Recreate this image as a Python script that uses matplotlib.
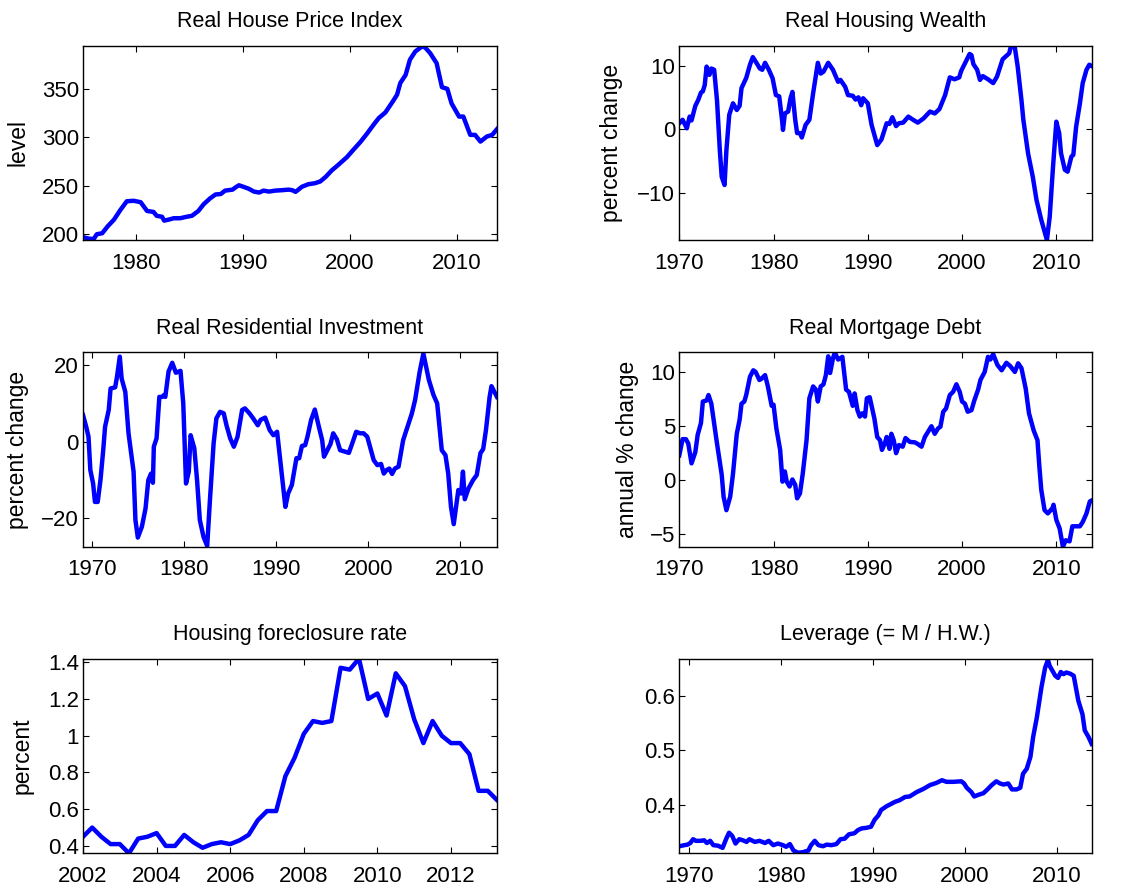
import matplotlib
matplotlib.use('Agg')
import matplotlib.pyplot as plt


# Real house price index (level)
hpi_year = [1975.0, 1975.5, 1976.0, 1976.3, 1976.8, 1977.3, 1977.9, 1978.5, 1979.1, 1979.75,
            1980.4, 1981.0, 1981.6, 1981.9, 1982.4, 1982.6, 1983.0, 1983.5, 1984.1, 1984.7,
            1985.2, 1985.8, 1986.3, 1986.9, 1987.4, 1987.9, 1988.3, 1989.0, 1989.3, 1989.6,
            1990.0, 1990.5, 1991.0, 1991.5, 1991.9, 1992.4, 1993.0, 1993.6, 1994.25, 1994.6,
            1994.9, 1995.5, 1996.1, 1996.7, 1997.2, 1997.7, 1998.3, 1998.9, 1999.7, 2000.3,
            2001.0, 2001.6, 2002.2, 2002.7, 2003.3, 2004.0, 2004.4, 2004.7, 2005.2, 2005.6,
            2006.1, 2006.7, 2007.0, 2007.5, 2007.8, 2008.1, 2008.6, 2009.1, 2009.5, 2010.2,
            2010.6, 2011.25, 2011.7, 2012.2, 2012.8, 2013.3, 2013.75]
hpi_level = [197, 195.5, 195, 200, 201, 208, 215, 225, 234, 234.5,
             233, 224, 223, 219, 218, 214, 215, 216.5, 216.5, 218,
             219, 224, 231, 237, 241, 241.5, 245, 246, 248.5, 250.5,
             249, 247, 244, 243, 245, 244, 245, 245.4, 246, 245.4,
             243.7, 249, 251.6, 252.6, 254.4, 259, 266, 271.6, 279.5, 287,
             295.6, 304, 313, 320, 325.6, 337, 344, 356, 364.4, 380,
             388.5, 393.5, 393, 386.8, 381.6, 376.5, 351.7, 350, 335, 321.4,
             321.4, 302.5, 302.5, 295.6, 300.8, 302.5, 308.4]

# Real housing wealth (percent change)
hw_year = [1970.0, 1970.35, 1970.8, 1971.1, 1971.3, 1971.7, 1972.0, 1972.3, 1972.5, 1972.7,
           1972.9, 1973.2, 1973.4, 1973.7, 1974.0, 1974.3, 1974.5, 1974.8, 1975.0, 1975.3,
           1975.7, 1976.1, 1976.4, 1976.6, 1977.1, 1977.5, 1977.8, 1978.1, 1978.55, 1978.8,
           1979.1, 1979.5, 1979.9, 1980.25, 1980.6, 1980.9, 1981.0, 1981.2, 1981.55, 1981.8,
           1982.0, 1982.3, 1982.5, 1982.8, 1983.0, 1983.4, 1983.8, 1984.2, 1984.7, 1985.0,
           1985.3, 1985.8, 1986.3, 1986.85, 1987.1, 1987.6, 1987.9, 1988.4, 1988.7, 1989.0,
           1989.3, 1989.5, 1990.0, 1990.4, 1991.0, 1991.45, 1992.0, 1992.3, 1992.6, 1993.0,
           1993.3, 1993.75, 1994.3, 1994.8, 1995.3, 1995.9, 1996.6, 1997.1, 1997.6, 1998.2,
           1998.7, 1999.2, 1999.7, 1999.9, 2000.4, 2000.8, 2001.0, 2001.2, 2001.6, 2001.9,
           2002.2, 2002.75, 2003.3, 2003.7, 2004.3, 2004.7, 2005.0, 2005.2, 2005.6, 2005.9,
           2006.3, 2006.5, 2007.0, 2007.5, 2007.9, 2008.4, 2009.0, 2009.3, 2009.65, 2010.0,
           2010.3, 2010.5, 2010.9, 2011.2, 2011.6, 2011.8, 2012.1, 2012.5, 2012.8, 2013.2,
           2013.5, 2013.75]
hw_change = [0.95, 1.5, 0.15, 2.0, 1.4, 3.7, 4.6, 5.8, 6.0, 7.0,
             9.9, 8.6, 9.6, 9.4, 4.6, -3.3, -7.5, -8.8, -3.3, 2.3,
             4.1, 3.05, 3.7, 6.5, 8.1, 10.2, 11.4, 10.7, 9.6, 9.4,
             10.5, 9.4, 8.05, 5.4, 5.2, 1.5, -0.1, 2.5, 2.8, 4.9,
             5.9, 1.5, -0.6, -0.6, -1.3, 0.7, 1.5, 5.7, 10.5, 8.8,
             9.1, 10.5, 9.4, 7.5, 7.8, 6.7, 5.4, 5.3, 4.7, 5.05,
             3.8, 4.9, 4.1, 0.7, -2.5, -1.6, 0.95, 0.85, 1.9, 0.5,
             0.95, 1.05, 2.0, 1.5, 1.05, 1.7, 2.8, 2.5, 3.2, 5.4,
             8.2, 7.9, 8.2, 9.2, 10.7, 11.9, 11.7, 10.3, 9.4, 7.8,
             8.4, 7.9, 7.3, 8.3, 11.05, 11.6, 12.0, 13.2, 12.9, 9.9,
             4.6, 1.5, -3.8, -7.5, -11.2, -14.3, -17.5, -13.8, -5.9, 1.2,
             -0.6, -3.8, -6.4, -6.7, -4.3, -4.05, 0.4, 4.1, 7.3, 9.4,
             10.2, 10.0]

# Real residential investment (percent change)
ri_year = [1969.0, 1969.35, 1969.6, 1969.8, 1970.1, 1970.3, 1970.6, 1970.9, 1971.2, 1971.4,
           1971.8, 1972.0, 1972.5, 1972.7, 1973.0, 1973.2, 1973.6, 1973.95, 1974.5, 1974.7,
           1974.96, 1975.4, 1975.8, 1976.1, 1976.4, 1976.6, 1976.7, 1977.0, 1977.3, 1977.6,
           1977.8, 1977.95, 1978.3, 1978.7, 1979.1, 1979.6, 1979.9, 1980.2, 1980.5, 1980.7,
           1981.1, 1981.4, 1981.7, 1982.1, 1982.5, 1982.8, 1983.2, 1983.5, 1983.9, 1984.3,
           1984.6, 1985.0, 1985.4, 1985.8, 1986.3, 1986.6, 1987.1, 1987.5, 1988.0, 1988.3,
           1988.8, 1989.3, 1989.7, 1990.1, 1990.4, 1991.0, 1991.3, 1991.7, 1992.2, 1992.5,
           1992.8, 1993.15, 1993.4, 1993.8, 1994.2, 1994.6, 1995.0, 1995.2, 1995.6, 1995.9,
           1996.2, 1996.6, 1996.95, 1997.5, 1997.9, 1998.2, 1998.7, 1999.1, 1999.5, 1999.9,
           2000.2, 2000.6, 2001.0, 2001.4, 2001.7, 2002.0, 2002.3, 2002.6, 2002.9, 2003.3,
           2003.8, 2004.3, 2004.75, 2005.1, 2005.6, 2006.0, 2006.6, 2007.1, 2007.5, 2008.0,
           2008.4, 2008.7, 2009.0, 2009.3, 2009.7, 2009.8, 2010.1, 2010.3, 2010.5, 2010.9,
           2011.4, 2011.8, 2012.2, 2012.5, 2012.8, 2013.2, 2013.4, 2014.0]
ri_change = [7.0, 3.9, 1.3, -7.4, -10.9, -15.7, -15.7, -10.0, -2.2, 3.9,
             8.3, 13.9, 14.2, 17.0, 22.2, 16.5, 13.0, 2.2, -7.8, -20.4,
             -25.0, -22.2, -17.4, -10.0, -8.3, -10.7, -1.3, 0.9, 11.7, 11.7,
             12.2, 11.7, 18.3, 20.6, 18.0, 18.5, 10.0, -10.9, -7.8, 1.7,
             -1.7, -10.0, -20.4, -24.8, -27.2, -15.2, -0.4, 6.1, 7.8, 7.4,
             4.3, 0.9, -1.3, 1.3, 8.3, 8.7, 7.4, 6.1, 4.3, 5.7,
             6.3, 3.0, 1.7, 2.6, -3.9, -17.0, -13.5, -11.3, -4.3, -4.3,
             -1.1, -0.9, 1.3, 5.7, 8.4, 4.3, 0.4, -3.9, -2.0, -0.6,
             2.2, 0.6, -2.2, -2.6, -2.9, -0.9, 2.6, 2.2, 2.2, 1.3,
             -1.3, -4.8, -6.1, -5.8, -8.3, -7.4, -7.0, -8.4, -7.0, -6.5,
             0.4, 4.1, 7.4, 10.9, 18.3, 23.0, 16.1, 12.2, 10.0, -2.2,
             -3.5, -8.3, -17.0, -21.5, -14.3, -12.6, -13.5, -7.8, -15.0, -12.2,
             -10.0, -8.7, -3.0, -1.9, 3.0, 11.7, 14.5, 11.7]

# Real mortgage debt (annual % change)
md_year = [1970.0, 1970.35, 1970.7, 1970.95, 1971.3, 1971.7, 1971.95, 1972.3, 1972.5, 1972.9,
           1973.1, 1973.4, 1973.95, 1974.5, 1974.7, 1975.0, 1975.4, 1975.7, 1976.1, 1976.4,
           1976.6, 1976.9, 1977.1, 1977.5, 1977.85, 1978.1, 1978.5, 1978.7, 1979.1, 1979.4,
           1979.8, 1980.0, 1980.3, 1980.7, 1980.95, 1981.2, 1981.4, 1981.7, 1982.0, 1982.3,
           1982.5, 1982.8, 1983.1, 1983.5, 1983.8, 1984.2, 1984.5, 1984.7, 1985.0, 1985.3,
           1985.55, 1985.8, 1986.0, 1986.3, 1986.5, 1986.85, 1987.3, 1987.7, 1988.0, 1988.4,
           1988.6, 1988.9, 1989.15, 1989.4, 1989.7, 1989.9, 1990.2, 1990.5, 1990.7, 1991.0,
           1991.3, 1991.5, 1991.8, 1992.0, 1992.3, 1992.5, 1992.75, 1993.0, 1993.3, 1993.7,
           1994.0, 1994.45, 1995.0, 1995.3, 1995.7, 1996.05, 1996.4, 1996.75, 1997.1, 1997.45,
           1997.7, 1998.0, 1998.3, 1998.7, 1999.05, 1999.4, 1999.75, 2000.0, 2000.3, 2000.6,
           2001.0, 2001.3, 2001.7, 2001.95, 2002.4, 2002.75, 2003.0, 2003.3, 2003.75, 2004.2,
           2004.7, 2005.1, 2005.6, 2005.95, 2006.3, 2006.75, 2007.1, 2007.35, 2007.6, 2008.0,
           2008.2, 2008.4, 2008.75, 2009.1, 2009.6, 2009.7, 2010.0, 2010.35, 2010.7, 2011.0,
           2011.4, 2011.7, 2012.05, 2012.5, 2012.8, 2013.2, 2013.55, 2013.75]
md_change = [2.3, 3.8, 3.8, 3.4, 1.55, 2.6, 4.2, 5.3, 7.3, 7.4,
             7.9, 7.1, 3.7, 0.5, -1.55, -2.8, -1.55, 0.6, 4.3, 5.6,
             7.1, 7.3, 7.9, 9.6, 10.2, 10.05, 9.3, 9.4, 9.75, 8.7,
             6.9, 7.0, 4.8, 2.8, -0.15, 0.8, -0.15, -0.6, 0.05, -0.45,
             -1.7, -1.25, 0.6, 3.7, 7.6, 8.7, 8.4, 7.3, 8.7, 8.9,
             9.75, 11.5, 9.95, 11.3, 11.85, 11.2, 11.45, 8.4, 8.2, 6.9,
             8.05, 6.5, 5.9, 6.2, 5.9, 7.6, 7.7, 6.5, 5.7, 4.0,
             3.7, 2.8, 3.4, 4.0, 2.9, 4.3, 3.7, 2.5, 3.25, 3.1,
             3.9, 3.55, 3.5, 3.35, 3.1, 4.0, 4.5, 5.0, 4.3, 4.8,
             4.95, 6.35, 6.65, 7.9, 8.2, 8.9, 8.2, 7.3, 7.1, 6.35,
             6.5, 7.4, 8.4, 9.3, 10.05, 11.45, 11.2, 11.7, 10.7, 10.2,
             10.9, 10.6, 10.05, 10.85, 10.4, 8.5, 6.2, 5.4, 4.6, 3.7,
             1.25, -0.9, -2.8, -3.1, -2.6, -2.3, -3.7, -4.5, -6.2, -5.6,
             -5.7, -4.3, -4.3, -4.3, -3.9, -3.1, -2.0, -1.9]

# Housing foreclosure rate (percent), quarterly 2002Q1 - 2013Q2
fc_year = [2002.0, 2002.25, 2002.5, 2002.75, 2003.0, 2003.25, 2003.5, 2003.75,
           2004.0, 2004.25, 2004.5, 2004.75, 2005.0, 2005.25, 2005.5, 2005.75,
           2006.0, 2006.25, 2006.5, 2006.75, 2007.0, 2007.25, 2007.5, 2007.75,
           2008.0, 2008.25, 2008.5, 2008.75, 2009.0, 2009.25, 2009.5, 2009.75,
           2010.0, 2010.25, 2010.5, 2010.75, 2011.0, 2011.25, 2011.5, 2011.75,
           2012.0, 2012.25, 2012.5, 2012.75, 2013.0, 2013.25]
fc_rate = [0.45, 0.50, 0.45, 0.41, 0.41, 0.36, 0.44, 0.45,
           0.47, 0.40, 0.40, 0.46, 0.42, 0.39, 0.41, 0.42,
           0.41, 0.43, 0.46, 0.54, 0.59, 0.59, 0.78, 0.88,
           1.01, 1.08, 1.07, 1.08, 1.37, 1.36, 1.42, 1.20,
           1.23, 1.11, 1.34, 1.27, 1.09, 0.96, 1.08, 1.00,
           0.96, 0.96, 0.90, 0.70, 0.70, 0.65]

# Leverage (= mortgage debt / housing wealth)
lev_year = [1969.0, 1969.55, 1969.9, 1970.2, 1970.5, 1970.8, 1971.3, 1971.7, 1972.0, 1972.35,
            1972.7, 1973.2, 1973.7, 1974.1, 1974.4, 1974.75, 1975.1, 1975.5, 1975.9, 1976.3,
            1976.6, 1977.2, 1977.7, 1978.3, 1978.7, 1979.2, 1979.7, 1980.25, 1980.6, 1981.0,
            1981.4, 1981.9, 1982.4, 1983.0, 1983.3, 1983.7, 1984.1, 1984.6, 1985.0, 1985.5,
            1986.05, 1986.5, 1986.95, 1987.4, 1988.0, 1988.4, 1988.8, 1989.3, 1989.8, 1990.2,
            1990.6, 1990.9, 1991.5, 1991.85, 1992.4, 1992.9, 1993.5, 1994.0, 1994.75, 1995.5,
            1996.2, 1996.9, 1997.5, 1998.0, 1998.7, 1999.6, 1999.9, 2000.2, 2000.7, 2001.0,
            2001.45, 2002.0, 2002.5, 2002.9, 2003.4, 2003.8, 2004.2, 2004.7, 2005.1, 2005.6,
            2006.0, 2006.3, 2006.7, 2007.1, 2007.4, 2007.8, 2008.3, 2008.7, 2009.0, 2009.2,
            2009.8, 2010.1, 2010.4, 2010.7, 2011.0, 2011.4, 2011.8, 2012.3, 2012.75, 2013.0,
            2013.4, 2013.75]
lev_ratio = [0.323, 0.325, 0.326, 0.329, 0.336, 0.333, 0.333, 0.334, 0.329, 0.333,
             0.325, 0.324, 0.320, 0.337, 0.348, 0.342, 0.328, 0.336, 0.334, 0.331,
             0.336, 0.331, 0.333, 0.329, 0.333, 0.325, 0.328, 0.325, 0.322, 0.327,
             0.315, 0.311, 0.312, 0.315, 0.325, 0.333, 0.325, 0.323, 0.326, 0.325,
             0.327, 0.336, 0.337, 0.345, 0.347, 0.353, 0.356, 0.357, 0.359, 0.372,
             0.380, 0.390, 0.397, 0.400, 0.405, 0.408, 0.414, 0.415, 0.423, 0.429,
             0.436, 0.440, 0.445, 0.442, 0.442, 0.443, 0.439, 0.431, 0.423, 0.415,
             0.418, 0.421, 0.429, 0.436, 0.443, 0.439, 0.437, 0.439, 0.428, 0.428,
             0.431, 0.457, 0.466, 0.488, 0.525, 0.561, 0.617, 0.653, 0.667, 0.656,
             0.638, 0.634, 0.645, 0.641, 0.644, 0.642, 0.638, 0.592, 0.567, 0.537,
             0.525, 0.512]


plt.rcParams['font.family'] = ['Liberation Sans', 'DejaVu Sans']

fig = plt.figure(figsize=(11.43, 8.88), dpi=100)

col_left = [0.0726, 0.5943]
col_width = [0.3622, 0.3608]
row_bottom = [0.7297, 0.3843, 0.0391]
row_height = 0.2188


def panel(row, col, x, y, title, ylabel, xlim, ylim, xticks, yticks,
          yticklabels=None, label_x=None):
    ax = fig.add_axes([col_left[col], row_bottom[row], col_width[col], row_height])
    ax.plot(x, y, color='#0000ff', lw=3.2, solid_joinstyle='round')
    # ticks first, limits after, so ticks outside the range do not widen the view
    ax.set_xticks(xticks)
    ax.set_yticks(yticks)
    if yticklabels is not None:
        ax.set_yticklabels(yticklabels)
    ax.set_xlim(xlim)
    ax.set_ylim(ylim)
    ax.set_title(title, fontsize=15.5, pad=13.5)
    if ylabel:
        ax.set_ylabel(ylabel, fontsize=16.5)
        ax.yaxis.set_label_coords(label_x, 0.5)
    ax.tick_params(direction='in', length=4, width=0.8, top=True, right=True,
                   labelsize=16)
    ax.tick_params(axis='x', pad=9)
    ax.tick_params(axis='y', pad=3)
    for spine in ax.spines.values():
        spine.set_linewidth(1.0)
    return ax


decades = [1970, 1980, 1990, 2000, 2010]

panel(0, 0, hpi_year, hpi_level, 'Real House Price Index', 'level',
      (1975, 2013.75), (194, 394.5), decades, [200, 250, 300, 350], label_x=-0.128)
panel(0, 1, hw_year, hw_change, 'Real Housing Wealth', 'percent change',
      (1970, 2013.75), (-17.5, 13.2), decades, [-10, 0, 10], label_x=-0.136)
panel(1, 0, ri_year, ri_change, 'Real Residential Investment', 'percent change',
      (1969, 2014), (-27.4, 23.3), decades, [-20, 0, 20], label_x=-0.130)
panel(1, 1, md_year, md_change, 'Real Mortgage Debt', 'annual % change',
      (1970, 2013.75), (-6.2, 11.86), decades, [-5, 0, 5, 10], label_x=-0.097)
panel(2, 0, fc_year, fc_rate, 'Housing foreclosure rate', 'percent',
      (2002, 2013.25), (0.36, 1.418), [2002, 2004, 2006, 2008, 2010, 2012],
      [0.4, 0.6, 0.8, 1.0, 1.2, 1.4],
      yticklabels=['0.4', '0.6', '0.8', '1', '1.2', '1.4'], label_x=-0.120)
panel(2, 1, lev_year, lev_ratio, 'Leverage (= M / H.W.)', None,
      (1969, 2013.75), (0.31, 0.669), decades, [0.4, 0.5, 0.6])

fig.savefig('out.png', dpi=100)
plt.close(fig)
